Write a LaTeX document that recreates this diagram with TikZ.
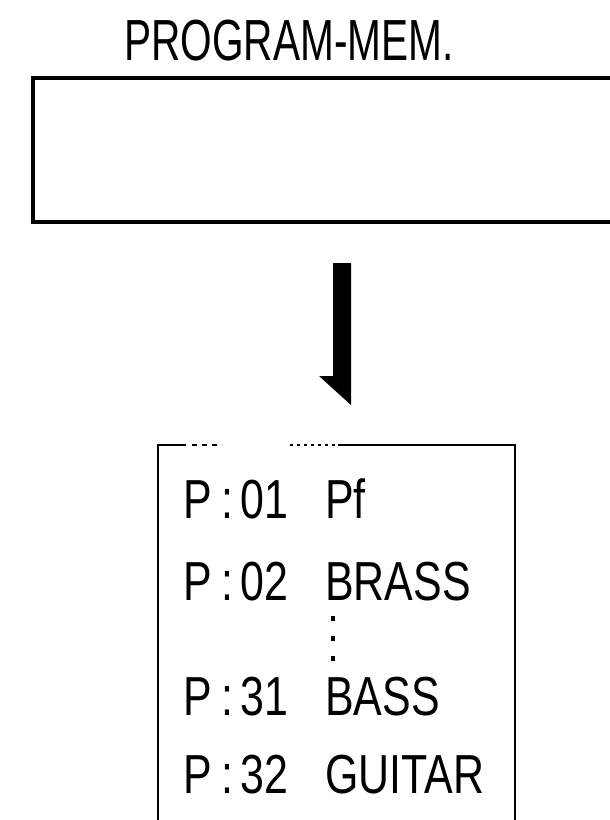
\documentclass[tikz,border=0pt]{standalone}
\usepackage{fontspec}
\newfontfamily\titlefont[FakeStretch=0.7]{Liberation Sans}
\newfontfamily\listfont[FakeStretch=0.78]{Liberation Sans}
\begin{document}
\begin{tikzpicture}[x=1pt,y=-1pt,
  ttl/.style={inner sep=0pt,anchor=base,font=\titlefont\fontsize{58}{58}\selectfont},
  lst/.style={inner sep=0pt,anchor=base west,font=\listfont\fontsize{55}{55}\selectfont},
  colon/.style={inner sep=0pt,anchor=base,font=\listfont\fontsize{55}{55}\selectfont},
  thickbox/.style={line width=3.2pt,line cap=butt},
  thinbox/.style={line width=2pt,line cap=butt},
  vdot/.style={rectangle,fill=black,inner sep=0pt,minimum width=4.5pt,minimum height=5pt}]
\useasboundingbox (0,0) rectangle (610,820);
% title
\node[ttl] (title) at (289,60) {PROGRAM-MEM.};
% program memory box (open to the right)
\coordinate (pmTL) at (33,78);
\coordinate (pmBL) at (33,222);
\coordinate (pmTR) at (612,78);
\coordinate (pmBR) at (612,222);
\draw[thickbox] (pmTR) -- (pmTL) -- (pmBL) -- (pmBR);
% thick arrow with half head
\coordinate (arTop) at (342,263);
\fill (333,263) -- (351,263) -- (351,405) -- (319,376) -- (333,376) -- cycle;
% list box
\coordinate (lbTL) at (158,445);
\coordinate (lbTR) at (515,445);
\coordinate (lbBL) at (158,822);
\coordinate (lbBR) at (515,822);
\draw[thinbox] (lbBL) -- (lbTL) -- (186,445);
\draw[line width=1.6pt,dash pattern=on 5pt off 5pt] (192,445) -- (222,445);
\draw[line width=1.6pt,dash pattern=on 3pt off 4pt] (290,445) -- (336,445);
\draw[thinbox] (338,445) -- (lbTR) -- (lbBR);
% entries
\foreach \n/\num/\name/\y in {a/01/Pf/518, b/02/BRASS/600, c/31/BASS/715, d/32/GUITAR/793}{
  \node[lst] (p\n) at (183,\y) {P};
  \node[colon] (c\n) at (227,\y) {:};
  \node[lst] (n\n) at (240,\y) {\num};
  \node[lst] (m\n) at (325,\y) {\name};
}
\node[vdot] (d1) at (333,618) {};
\node[vdot] (d2) at (333,638) {};
\node[vdot] (d3) at (333,658) {};
\end{tikzpicture}
\end{document}
